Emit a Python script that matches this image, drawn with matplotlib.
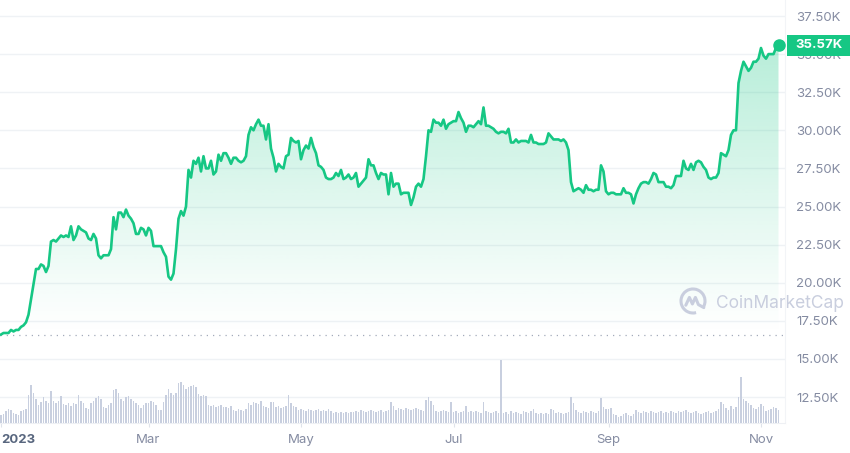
import numpy as np
import pandas as pd
import matplotlib
matplotlib.use("Agg")
import matplotlib.pyplot as plt
import matplotlib.dates as mdates
import matplotlib.transforms as mtransforms
from matplotlib.patches import Rectangle, Arc, PathPatch
from matplotlib.path import Path

plt.rcParams['font.family'] = ['Inter', 'DejaVu Sans']

# ---------------- data ----------------
start_date = "2023-01-01"
# daily price, thousands USD
jan = [16.6, 16.7, 16.7, 16.7, 16.9, 16.8, 16.9, 16.9, 17.1, 17.2, 17.4, 17.9, 18.9, 19.9, 20.9, 20.9,
       21.2, 21.1, 20.7, 21.1, 22.7, 22.8, 22.7, 22.9, 23.1, 23.0, 23.1, 23.0, 23.7, 22.8, 23.1]
feb = [23.7, 23.5, 23.4, 23.3, 22.9, 22.8, 23.2, 22.9, 21.8, 21.6, 21.8, 21.8, 21.8, 22.2, 24.3, 23.5,
       24.6, 24.6, 24.3, 24.8, 24.4, 24.2, 23.9, 23.2, 23.2, 23.6, 23.5, 23.1]
mar = [23.6, 23.4, 22.4, 22.4, 22.4, 22.4, 22.0, 21.7, 20.4, 20.2, 20.6, 22.2, 24.2, 24.7, 24.4, 25.0,
       27.4, 26.9, 28.0, 27.8, 28.2, 27.3, 28.3, 27.5, 27.5, 28.0, 27.1, 27.3, 28.4, 28.0, 28.5]
apr = [28.5, 28.2, 27.8, 28.2, 28.2, 28.0, 27.9, 28.0, 28.3, 29.7, 30.2, 30.0, 30.4, 30.7, 30.3, 30.3,
       29.4, 30.4, 28.8, 28.2, 27.3, 27.8, 27.6, 27.5, 28.3, 28.4, 29.5, 29.3, 29.2, 29.3]
may = [28.1, 28.7, 29.0, 28.8, 29.5, 28.9, 28.5, 27.7, 27.6, 27.4, 26.9, 26.8, 26.8, 26.9, 27.2, 27.0,
       27.4, 26.8, 26.9, 27.1, 26.8, 26.9, 27.2, 26.3, 26.5, 26.7, 26.9, 28.1, 27.7, 27.7, 27.2]
jun = [26.8, 27.2, 27.1, 27.1, 25.8, 27.2, 26.3, 26.5, 26.5, 25.8, 25.9, 25.9, 25.9, 25.1, 25.6, 26.3,
       26.5, 26.3, 26.8, 28.3, 30.0, 29.9, 30.7, 30.5, 30.5, 30.3, 30.7, 30.1, 30.4, 30.5]
jul = [30.6, 30.6, 31.2, 30.8, 30.5, 29.9, 30.3, 30.3, 30.2, 30.4, 30.6, 30.4, 31.5, 30.3, 30.3, 30.2,
       30.1, 29.9, 29.8, 29.9, 29.9, 29.8, 30.1, 29.2, 29.2, 29.4, 29.2, 29.3, 29.3, 29.3, 29.2]
aug = [29.7, 29.2, 29.2, 29.1, 29.1, 29.1, 29.2, 29.8, 29.6, 29.4, 29.4, 29.4, 29.3, 29.4, 29.2, 28.7,
       26.6, 26.0, 26.1, 26.2, 26.1, 25.9, 26.4, 26.1, 26.1, 26.0, 26.1, 26.1, 27.7, 27.3, 26.0]
sep = [25.8, 25.9, 25.9, 25.8, 25.8, 25.8, 26.2, 25.9, 25.9, 25.8, 25.2, 25.8, 26.2, 26.5, 26.6, 26.6,
       26.5, 26.8, 27.2, 27.1, 26.6, 26.6, 26.6, 26.3, 26.3, 26.2, 26.4, 27.0, 27.0, 27.0]
oct_ = [28.0, 27.5, 27.4, 27.8, 27.4, 27.9, 28.0, 27.9, 27.6, 27.4, 26.9, 26.8, 26.9, 26.9, 27.2, 28.5,
        28.4, 28.3, 28.7, 29.7, 30.0, 30.0, 33.1, 33.9, 34.5, 34.2, 33.9, 34.1, 34.5, 34.5, 34.7]
nov = [35.4, 34.9, 34.7, 35.0, 35.0, 35.0, 35.4, 35.57]

# daily volume, billions USD
jan_v = [8, 9, 12, 14, 13, 10, 9, 8, 12, 13, 14, 28, 38, 30, 24, 18, 21, 26, 22, 20, 32, 22, 20, 22,
         27, 19, 18, 20, 17, 20, 19]
feb_v = [28, 22, 20, 15, 14, 20, 22, 25, 27, 24, 16, 15, 18, 20, 33, 34, 30, 24, 22, 26, 27, 24, 22,
         20, 18, 15, 18, 20]
mar_v = [20, 22, 21, 18, 13, 13, 21, 28, 34, 30, 28, 30, 40, 41, 38, 34, 36, 37, 38, 36, 29, 27, 28,
         27, 18, 17, 18, 16, 17, 18, 16]
apr_v = [16, 15, 17, 13, 12, 14, 13, 12, 14, 20, 18, 21, 20, 19, 22, 17, 16, 15, 21, 21, 16, 17, 15,
         16, 17, 28, 20, 17, 16, 13]
may_v = [14, 13, 12, 14, 13, 12, 13, 14, 12, 13, 12, 14, 12, 10, 11, 10, 11, 10, 11, 10, 11, 11, 12,
         11, 13, 12, 11, 12, 13, 12, 11]
jun_v = [12, 13, 11, 12, 13, 21, 17, 13, 15, 14, 13, 15, 14, 13, 14, 15, 14, 13, 12, 23, 26, 22, 18,
         12, 11, 12, 13, 12, 11, 21]
jul_v = [11, 12, 10, 11, 12, 17, 11, 12, 11, 12, 11, 10, 21, 12, 11, 10, 11, 12, 10, 63, 10, 11, 9,
         12, 10, 11, 10, 9, 12, 11, 10]
aug_v = [12, 14, 10, 9, 10, 9, 10, 9, 14, 13, 10, 11, 10, 9, 10, 11, 26, 20, 13, 11, 10, 12, 11, 10,
         12, 11, 10, 12, 25, 16, 14]
sep_v = [14, 15, 9, 8, 6, 7, 9, 10, 8, 7, 9, 13, 11, 10, 12, 11, 10, 12, 11, 10, 11, 12, 10, 11, 10,
         12, 11, 10, 12, 11]
oct_v = [12, 13, 11, 10, 11, 12, 10, 9, 10, 11, 12, 10, 11, 12, 14, 21, 19, 15, 13, 17, 14, 16, 26,
         46, 24, 22, 20, 18, 15, 14, 16]
nov_v = [19, 17, 12, 13, 14, 16, 15, 13]

y_ticks = [12500, 15000, 17500, 20000, 22500, 25000, 27500, 30000, 32500, 35000, 37500]
y_tick_labels = ["12.50K", "15.00K", "17.50K", "20.00K", "22.50K", "25.00K", "27.50K",
                 "30.00K", "32.50K", "35.00K", "37.50K"]
x_tick_dates = ["2023-01-01", "2023-03-01", "2023-05-01", "2023-07-01", "2023-09-01", "2023-11-01"]
x_tick_labels = ["2023", "Mar", "May", "Jul", "Sep", "Nov"]
last_label = "35.57K"
watermark = "CoinMarketCap"

# ---------------- build ----------------
price = np.array(jan + feb + mar + apr + may + jun + jul + aug + sep + oct_ + nov) * 1000
volume = np.array(jan_v + feb_v + mar_v + apr_v + may_v + jun_v + jul_v + aug_v + sep_v + oct_v + nov_v)
dates = pd.date_range(start_date, periods=len(price), freq="D")
x = mdates.date2num(dates)
x0 = mdates.date2num(pd.Timestamp(start_date))

GREEN = "#16c784"
GRID = "#eff2f5"
TXT = "#858ca2"

W, H = 850, 453
fig = plt.figure(figsize=(W / 100, H / 100), dpi=100)
ax = fig.add_axes([0, 30 / H, 785 / W, 423 / H])

# volume on a twin axis (created first so the price axis keeps right-side ticks)
ax2 = ax.twinx()

XLIM = (x0 - 0.4, x0 + 313.6)
YLIM = (10794, 38550)

# grid
for yt in y_ticks:
    ax.axhline(yt, color=GRID, lw=1, zorder=0)

# gradient fill
base = price[0]
poly = ax.fill_between(x, price, base, facecolor="none", edgecolor="none")
grad_top, grad_bot = 36500, base
n = 256
alpha = np.linspace(0.36, 0.0, n) ** 1.1
rgba = np.zeros((n, 1, 4))
rgba[:, 0, 0] = 0x16 / 255
rgba[:, 0, 1] = 0xc7 / 255
rgba[:, 0, 2] = 0x84 / 255
rgba[:, 0, 3] = alpha
im = ax.imshow(rgba, extent=[x[0], x[-1], grad_bot, grad_top], aspect="auto",
               origin="upper", zorder=1, interpolation="bilinear")
im.set_clip_path(poly.get_paths()[0], ax.transData)

# baseline dotted
ax.axhline(base, color="#a3aabb", lw=0.9, ls=(0, (1, 4)), zorder=2)

# price line
ax.plot(x, price, color=GREEN, lw=1.9, zorder=4, solid_joinstyle="round")
ax.plot(x[-1], price[-1], "o", color=GREEN, ms=8, zorder=5)

ax.set_xlim(*XLIM)
ax.set_ylim(*YLIM)

# axes styling
for s in ["top", "left"]:
    ax.spines[s].set_visible(False)
ax.spines["right"].set_color("#f2f4f7")
ax.spines["bottom"].set_color("#eef0f4")
ax.set_yticks(y_ticks)
ax.set_yticklabels(y_tick_labels)
ax.yaxis.tick_right()
ax.tick_params(axis="y", which="both", left=False, right=True, labelleft=False, labelright=True,
               length=0, pad=8, labelsize=9.5, labelcolor=TXT)
xt = mdates.date2num(pd.to_datetime(x_tick_dates))
ax.set_xticks(xt)
ax.set_xticklabels(x_tick_labels)
ax.tick_params(axis="x", length=3, color="#dfe3ea", pad=5, labelsize=9.5, labelcolor=TXT)
lbls = ax.get_xticklabels()
lbls[0].set_horizontalalignment("left")
lbls[0].set_fontweight("bold")
lbls[0].set_color("#58667e")
ax.set_facecolor("white")

ax2.set_ylim(0, 423)
ax2.bar(x, volume, width=0.8, color="#c8cfdf", edgecolor="none", zorder=1)
ax2.tick_params(axis="y", which="both", left=False, right=False, labelleft=False, labelright=False)
for s in ax2.spines.values():
    s.set_visible(False)
ax2.set_xlim(*XLIM)

# last price label
blend = mtransforms.blended_transform_factory(fig.transFigure, ax.transData)
box_h = 1378
ax2.add_patch(Rectangle((787 / W, price[-1] - box_h / 2), 63 / W, box_h, transform=blend,
                        facecolor=GREEN, edgecolor="none", clip_on=False, zorder=10))
ax2.text(818.5 / W, price[-1], last_label, transform=blend, ha="center", va="center",
         color="white", fontsize=9.5, fontweight="bold", zorder=11, clip_on=False)

# watermark
wm_col = "#c9cede"
fig.text(716 / W, 1 - 304 / H, watermark, ha="left", va="center", fontsize=12.5,
         color=wm_col, zorder=20)
cx, cy, r = 6.93, (H - 301) / 100, 0.12
fig.patches.append(Arc((cx, cy), 2 * r, 2 * r, theta1=-35, theta2=285, lw=2.2, color=wm_col,
                       transform=fig.dpi_scale_trans))
verts = [(cx - 0.6 * r, cy - 0.35 * r), (cx - 0.3 * r, cy + 0.3 * r), (cx - 0.05 * r, cy - 0.25 * r),
         (cx + 0.2 * r, cy + 0.3 * r), (cx + 0.45 * r, cy - 0.3 * r), (cx + 0.9 * r, cy - 0.55 * r)]
fig.patches.append(PathPatch(Path(verts), fill=False, lw=2.2, edgecolor=wm_col,
                             transform=fig.dpi_scale_trans, capstyle="round", joinstyle="round"))

fig.savefig("out.png", dpi=100, facecolor="white")
